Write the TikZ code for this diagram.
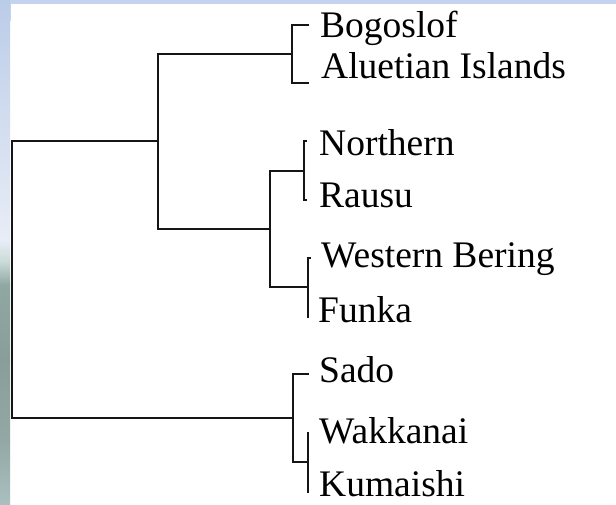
\documentclass[tikz,border=0pt]{standalone}
\usepackage{fontspec}
\setmainfont{Liberation Serif}
\begin{document}
\begin{tikzpicture}[x=1pt,y=-1pt,
  branch/.style={draw=linecol,line width=2pt,line join=miter},
  leaf/.style={anchor=base west,inner sep=0pt,text=black,
    font=\fontsize{37.5}{40}\selectfont}]
\definecolor{linecol}{HTML}{151515}
\definecolor{topband}{HTML}{C4D4EE}
\definecolor{skyA}{HTML}{BBCCE8}
\definecolor{skyB}{HTML}{E8EDF7}
\definecolor{hazeA}{HTML}{CADAD6}
\definecolor{hillA}{HTML}{8FA8A1}
\definecolor{hillB}{HTML}{8A9E99}
\definecolor{hillC}{HTML}{93A8A4}
\definecolor{hillD}{HTML}{A9C0C0}
\useasboundingbox (0,0) rectangle (616,504);
% page background and the framed edges
\fill[white] (0,0) rectangle (616,504);
\fill[topband] (0,0) rectangle (616,4);
\shade[top color=skyA,bottom color=skyB] (0,0) rectangle (10,240);
\shade[top color=skyB,bottom color=hazeA] (0,240) rectangle (10,262);
\shade[top color=hazeA,bottom color=hillA] (0,262) rectangle (10,285);
\shade[top color=hillA,bottom color=hillB] (0,285) rectangle (10,360);
\shade[top color=hillB,bottom color=hillC] (0,360) rectangle (10,440);
\shade[top color=hillC,bottom color=hillD] (0,440) rectangle (10,504);
\fill[topband] (10,4) rectangle (11,21);

% leaf labels
\node[leaf] (bog) at (320,37) {Bogoslof};
\node[leaf] (ale) at (321,78) {Aluetian Islands};
\node[leaf] (nor) at (319,155) {Northern};
\node[leaf] (rau) at (319,207) {Rausu};
\node[leaf] (web) at (321,267) {Western Bering};
\node[leaf] (fun) at (318,322) {Funka};
\node[leaf] (sad) at (319,382) {Sado};
\node[leaf] (wak) at (319,443) {Wakkanai};
\node[leaf] (kum) at (319,496) {Kumaishi};

% ends of the leaf branches
\coordinate (tbog) at (309,25);
\coordinate (tale) at (309,83);
\coordinate (tnor) at (307,141);
\coordinate (trau) at (307,200);
\coordinate (tweb) at (311,258);
\coordinate (tfun) at (309,317);
\coordinate (tsad) at (309,374);
\coordinate (twak) at (309,433);
\coordinate (tkum) at (309,492);

% joins of the tree
\coordinate (j1) at (292,54);
\coordinate (j2) at (304,171);
\coordinate (j3) at (308,287);
\coordinate (j4) at (270,229);
\coordinate (j5) at (158,141);
\coordinate (j6) at (308,462);
\coordinate (j7) at (293,418);
\coordinate (root) at (12,280);

\path[branch] (j1) |- (tbog) (j1) |- (tale);
\path[branch] (j2) |- (tnor) (j2) |- (trau);
\path[branch] (j3) |- (tweb) (j3) |- (tfun);
\path[branch] (j4) |- (j2) (j4) |- (j3);
\path[branch] (j5) |- (j1) (j5) |- (j4);
\path[branch] (j6) |- (twak) (j6) |- (tkum);
\path[branch] (j7) |- (tsad) (j7) |- (j6);
\path[branch] (root) |- (j5) (root) |- (j7);
\end{tikzpicture}
\end{document}
